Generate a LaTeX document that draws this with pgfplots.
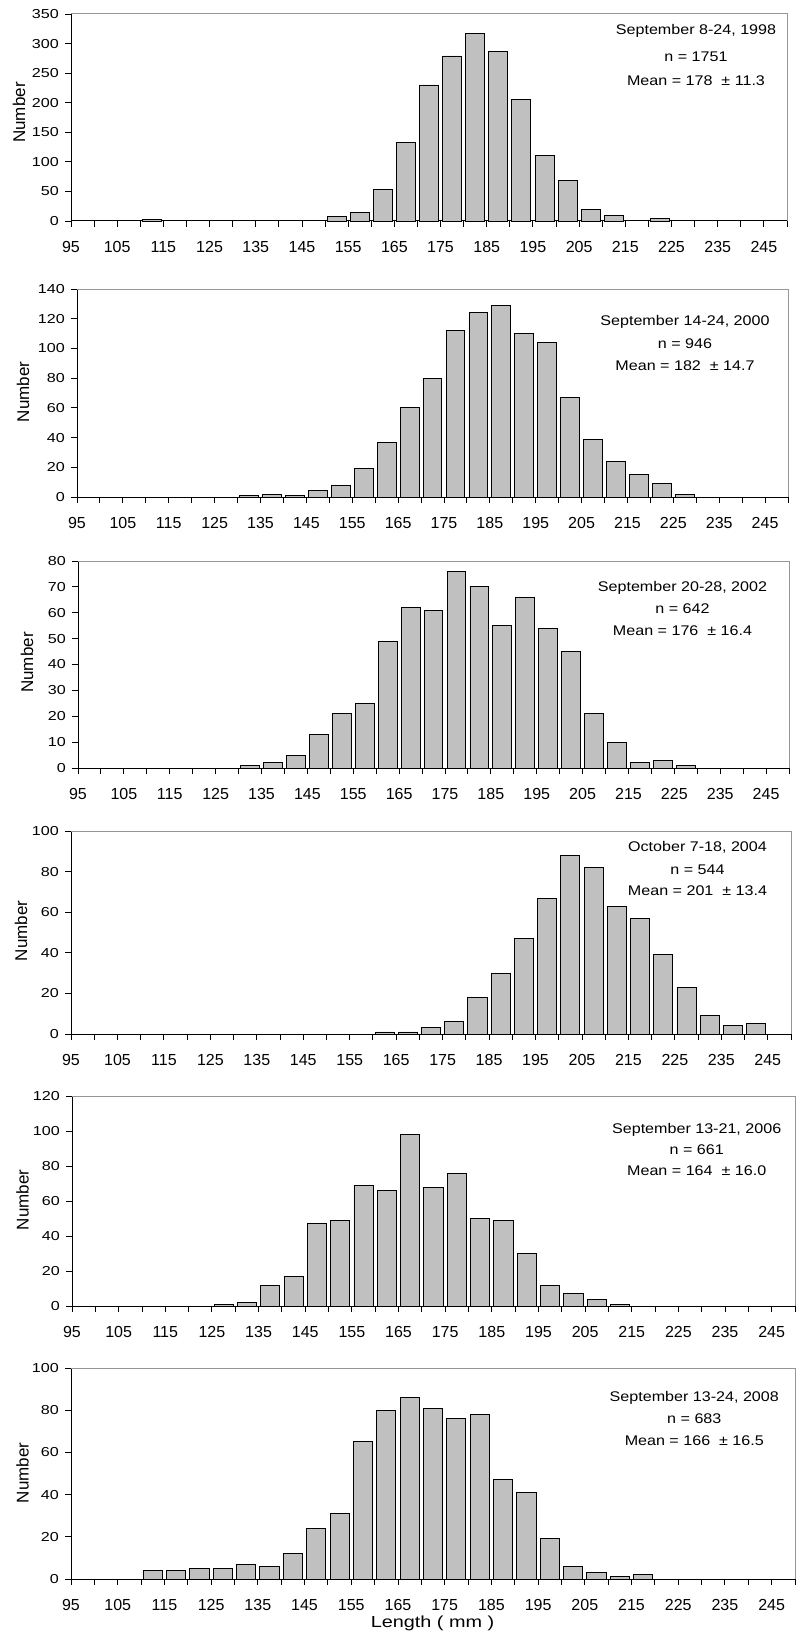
\documentclass[border=0pt]{standalone}
\usepackage{pgfplots}
\pgfplotsset{compat=1.18}
\usepackage{fontspec}
\setmainfont{Liberation Sans}
\newfontfamily\stretchfont{Liberation Sans}[FakeStretch=1.24]
\newfontfamily\annfam{Liberation Sans}[FakeStretch=1.15]
\definecolor{barfill}{RGB}{192,192,192}
\definecolor{framegray}{RGB}{150,150,150}
\newcommand{\ytickfont}{\stretchfont\fontsize{13}{13}\selectfont}
\newcommand{\annfont}{\annfam\fontsize{14}{14}\selectfont}
\newcommand{\xtickfont}{\fontsize{16}{16}\selectfont}
\newcommand{\frameTR}{\draw[framegray,line width=1pt] (rel axis cs:0,1) -- (rel axis cs:1,1) -- (rel axis cs:1,0);}
\pgfplotsset{
  panel/.style={
    scale only axis,
    anchor=north west,
    xmin=95, xmax=250, ymin=0,
    axis x line*=bottom, axis y line*=left,
    axis line style={line width=1pt, black, -},
    tick align=outside,
    major tick length=6pt,
    tick style={line width=0.9pt, black},
    xtick={95,100,...,250},
    xticklabels={95,,105,,115,,125,,135,,145,,155,,165,,175,,185,,195,,205,,215,,225,,235,,245,},
    xticklabel style={font=\xtickfont, anchor=north, inner sep=0pt, yshift=-14pt},
    yticklabel style={font=\ytickfont, anchor=east, inner sep=0pt, xshift=-6pt},
    /pgf/number format/assume math mode=true,
    ybar, bar width=4.1,
    clip=false,
  },
  bars/.style={fill=barfill, draw=black, line width=0.9pt},
}
\begin{document}
\begin{tikzpicture}
\useasboundingbox (0,0) rectangle (796pt,-1640pt);
% Panel 1: 1998
\begin{axis}[panel, at={(71pt,-14pt)}, width=716pt, height=207pt, ymax=350, ytick={0,50,...,350}]
\addplot[bars] coordinates {(112.5,2) (152.5,8) (157.5,15) (162.5,53) (167.5,133) (172.5,230) (177.5,279) (182.5,317) (187.5,287) (192.5,205) (197.5,111) (202.5,69) (207.5,19) (212.5,10) (222.5,4)};
\frameTR
\end{axis}
% Panel 2: 2000
\begin{axis}[panel, at={(77pt,-289pt)}, width=711pt, height=208pt, ymax=140, ytick={0,20,...,140}]
\addplot[bars] coordinates {(132.5,1) (137.5,2) (142.5,1) (147.5,4.5) (152.5,8) (157.5,19) (162.5,37) (167.5,60) (172.5,80) (177.5,112) (182.5,124) (187.5,129) (192.5,110) (197.5,104) (202.5,67) (207.5,39) (212.5,24) (217.5,15) (222.5,9) (227.5,2)};
\frameTR
\end{axis}
% Panel 3: 2002
\begin{axis}[panel, at={(78pt,-561pt)}, width=711pt, height=207pt, ymax=80, ytick={0,10,...,80}]
\addplot[bars] coordinates {(132.5,1) (137.5,2) (142.5,5) (147.5,13) (152.5,21) (157.5,25) (162.5,49) (167.5,62) (172.5,61) (177.5,76) (182.5,70) (187.5,55) (192.5,66) (197.5,54) (202.5,45) (207.5,21) (212.5,10) (217.5,2) (222.5,3) (227.5,1)};
\frameTR
\end{axis}
% Panel 4: 2004
\begin{axis}[panel, at={(71pt,-831pt)}, width=720pt, height=203pt, ymax=100, ytick={0,20,...,100}]
\addplot[bars] coordinates {(162.5,1) (167.5,1) (172.5,3) (177.5,6) (182.5,18) (187.5,30) (192.5,47) (197.5,67) (202.5,88) (207.5,82) (212.5,63) (217.5,57) (222.5,39) (227.5,23) (232.5,9) (237.5,4) (242.5,5)};
\frameTR
\end{axis}
% Panel 5: 2006
\begin{axis}[panel, at={(72pt,-1096pt)}, width=723pt, height=210pt, ymax=120, ytick={0,20,...,120}]
\addplot[bars] coordinates {(127.5,1) (132.5,2) (137.5,12) (142.5,17) (147.5,47) (152.5,49) (157.5,69) (162.5,66) (167.5,98) (172.5,68) (177.5,76) (182.5,50) (187.5,49) (192.5,30) (197.5,12) (202.5,7) (207.5,4) (212.5,1)};
\frameTR
\end{axis}
% Panel 6: 2008
\begin{axis}[panel, at={(71pt,-1368pt)}, width=724pt, height=211pt, ymax=100, ytick={0,20,...,100}]
\addplot[bars] coordinates {(112.5,4) (117.5,4) (122.5,5) (127.5,5) (132.5,7) (137.5,6) (142.5,12) (147.5,24) (152.5,31) (157.5,65) (162.5,80) (167.5,86) (172.5,81) (177.5,76) (182.5,78) (187.5,47) (192.5,41) (197.5,19) (202.5,6) (207.5,3) (212.5,1) (217.5,2)};
\frameTR
\end{axis}
% y labels
\begin{scope}[every node/.style={rotate=90, anchor=center, font=\fontsize{17}{17}\selectfont}]
\node at (19pt,-112.5pt) {Number};
\node at (23pt,-392pt) {Number};
\node at (27pt,-662.5pt) {Number};
\node at (21pt,-931pt) {Number};
\node at (22.5pt,-1200pt) {Number};
\node at (22.5pt,-1473pt) {Number};
\end{scope}
% x label
\node[anchor=base, font=\stretchfont\fontsize{16}{16}\selectfont] at (432.5pt,-1627pt) {Length ( mm )};
% annotations
\begin{scope}[every node/.style={anchor=base, font=\annfont, inner sep=0pt}]
\node at (696pt,-34.5pt) {September 8-24, 1998};
\node at (696pt,-61.7pt) {n = 1751};
\node at (696pt,-85.7pt) {Mean = 178\ \ ± 11.3};
\node at (685pt,-325.7pt) {September 14-24, 2000};
\node at (685pt,-348.3pt) {n = 946};
\node at (685pt,-370pt) {Mean = 182\ \ ± 14.7};
\node at (682.5pt,-591pt) {September 20-28, 2002};
\node at (682.5pt,-613.3pt) {n = 642};
\node at (682.5pt,-635pt) {Mean = 176\ \ ± 16.4};
\node at (697.5pt,-851.7pt) {October 7-18, 2004};
\node at (697.5pt,-874pt) {n = 544};
\node at (697.5pt,-895.7pt) {Mean = 201\ \ ± 13.4};
\node at (696.7pt,-1133.3pt) {September 13-21, 2006};
\node at (696.7pt,-1154pt) {n = 661};
\node at (696.7pt,-1175.7pt) {Mean = 164\ \ ± 16.0};
\node at (694.3pt,-1401.7pt) {September 13-24, 2008};
\node at (694.3pt,-1423.3pt) {n = 683};
\node at (694.3pt,-1445.7pt) {Mean = 166\ \ ± 16.5};
\end{scope}
\end{tikzpicture}
\end{document}
